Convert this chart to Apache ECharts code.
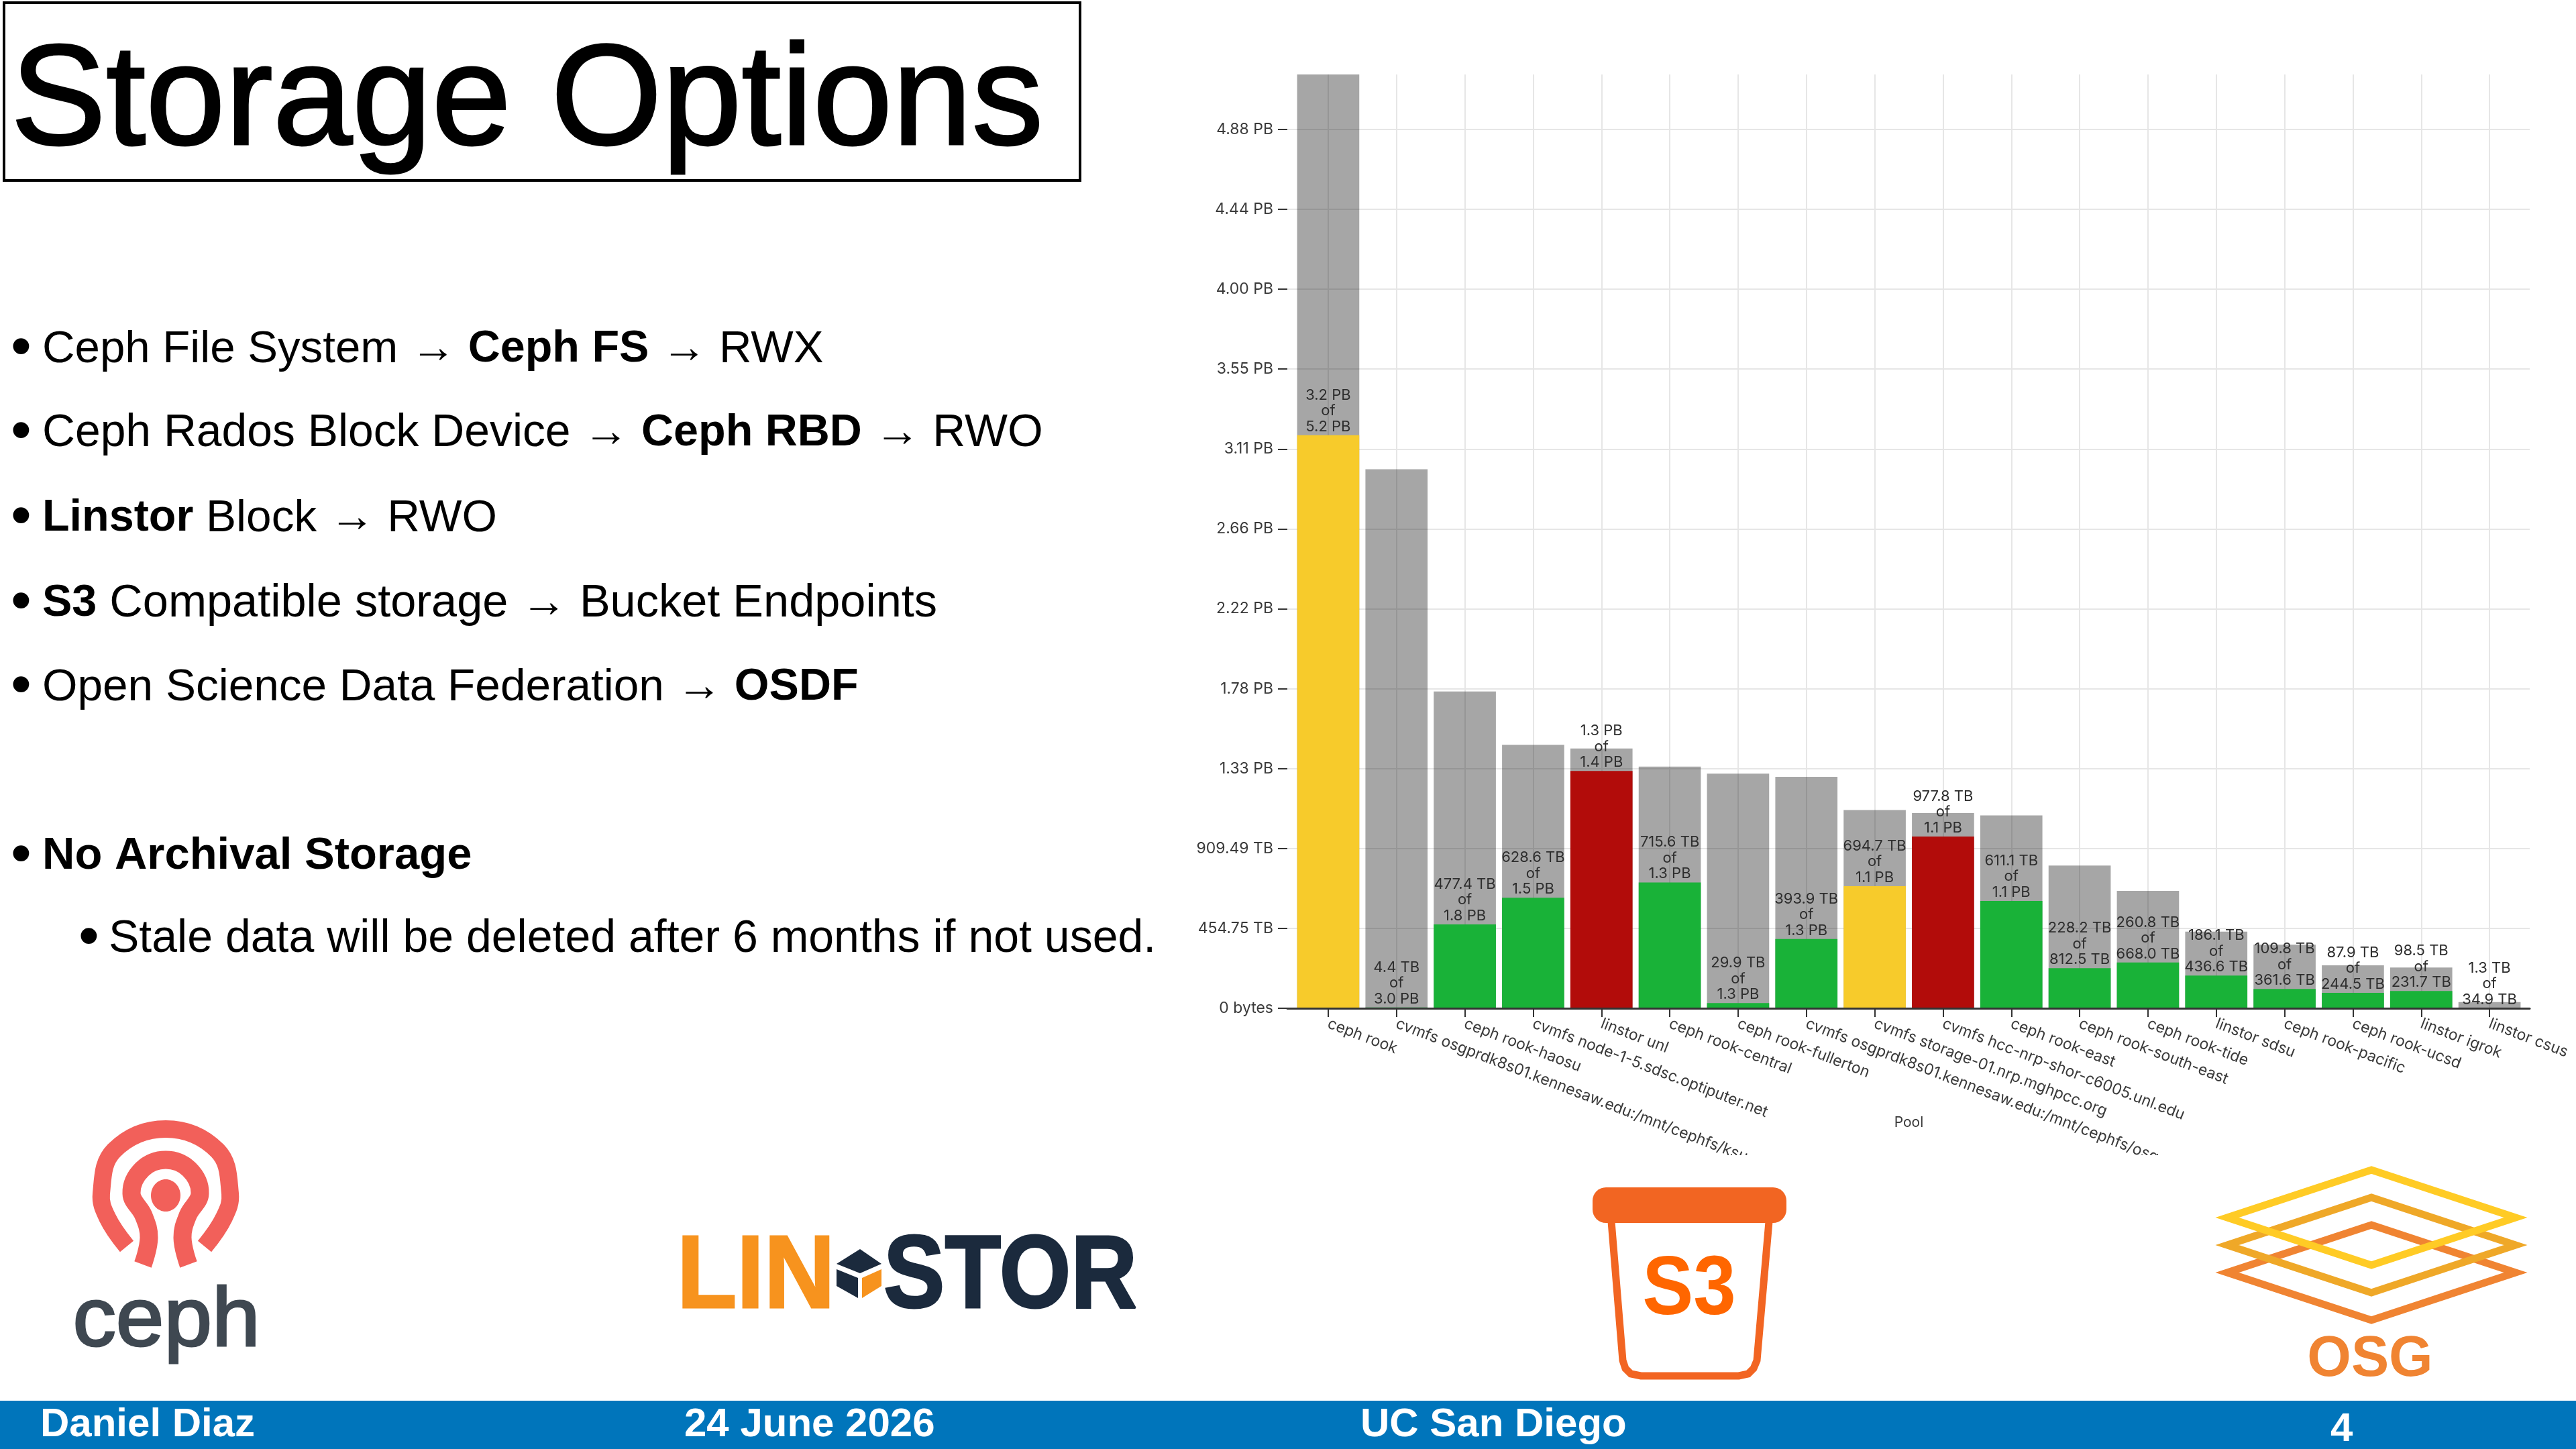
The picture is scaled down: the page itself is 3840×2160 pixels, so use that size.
<!DOCTYPE html>
<html>
<head>
<meta charset="utf-8">
<title>Storage Options</title>
<script src="https://cdn.jsdelivr.net/npm/echarts@6/dist/echarts.min.js"></script>
<style>html,body{margin:0;padding:0;background:#fff}#c{width:3840px;height:2160px}</style>
</head>
<body>
<div id="c"></div>
<script>
// ---- chart data (values in TB, 1 PB = 1024 TB) ----
const pools = ['ceph rook','cvmfs osgprdk8s01.kennesaw.edu:/mnt/cephfs/ksu','ceph rook-haosu','cvmfs node-1-5.sdsc.optiputer.net','linstor unl','ceph rook-central','ceph rook-fullerton','cvmfs osgprdk8s01.kennesaw.edu:/mnt/cephfs/osg','cvmfs storage-01.nrp.mghpcc.org','cvmfs hcc-nrp-shor-c6005.unl.edu','ceph rook-east','ceph rook-south-east','ceph rook-tide','linstor sdsu','ceph rook-pacific','ceph rook-ucsd','linstor igrok','linstor csus'];
const capacity = [5315,3068,1803,1500,1479,1376,1335,1317,1128,1111,1098,812.5,668,436.6,361.6,244.5,231.7,34.9];
const used = [3262,4.4,477.4,628.6,1351,715.6,29.9,393.9,694.7,977.8,611.1,228.2,260.8,186.1,109.8,87.9,98.5,1.3];
const usedText = ['3.2 PB','4.4 TB','477.4 TB','628.6 TB','1.3 PB','715.6 TB','29.9 TB','393.9 TB','694.7 TB','977.8 TB','611.1 TB','228.2 TB','260.8 TB','186.1 TB','109.8 TB','87.9 TB','98.5 TB','1.3 TB'];
const capacityText = ['5.2 PB','3.0 PB','1.8 PB','1.5 PB','1.4 PB','1.3 PB','1.3 PB','1.3 PB','1.1 PB','1.1 PB','1.1 PB','812.5 TB','668.0 TB','436.6 TB','361.6 TB','244.5 TB','231.7 TB','34.9 TB'];
const usedState = ['warn','ok','ok','ok','crit','ok','ok','ok','warn','crit','ok','ok','ok','ok','ok','ok','ok','ok'];
const tickValues = [0,454.75,909.49,1364.24,1818.99,2273.74,2728.48,3183.23,3637.98,4092.73,4547.47,5002.22];
const tickLabels = ['0 bytes','454.75 TB','909.49 TB','1.33 PB','1.78 PB','2.22 PB','2.66 PB','3.11 PB','3.55 PB','4.00 PB','4.44 PB','4.88 PB'];
const xName = 'Pool';
const stateColors = {ok:'#19B238', warn:'#F7CB2B', crit:'#B20C0A'};

// ---- slide text ----
const slideTitle = 'Storage Options';
const bulletLines = [
  'Ceph File System \u2192 {b|Ceph FS} \u2192 RWX',
  'Ceph Rados Block Device \u2192 {b|Ceph RBD} \u2192 RWO',
  '{b|Linstor} Block \u2192 RWO',
  '{b|S3} Compatible storage \u2192 Bucket Endpoints',
  'Open Science Data Federation \u2192 {b|OSDF}',
  '{b|No Archival Storage}',
  'Stale data will be deleted after 6 months if not used.'
];
const footerTexts = ['Daniel Diaz','24 June 2026','UC San Diego','4'];

const FONT = 'Inter';
const SLIDE = '"Liberation Sans"';
const TXT = '#3a3a3a';
const yMax = 5315;

const lineY = [521,646,773,900,1025,1277,1400];
const lineSize = [67.2,67.8,67.5,68.5,67.5,68,68];
function bulletEl(i, y, indent){
  const size = lineSize[i];
  const rich = {
    b:{fontFamily:SLIDE,fontSize:i===5?67:66.5,fill:'#000',fontWeight:'bold'}
  };
  return [
    {type:'text',z:50,style:{x:indent?117:16,y:y,text:'\u2022',fontFamily:SLIDE,fontSize:88,fill:'#000',verticalAlign:'middle'}},
    {type:'text',z:50,style:{x:indent?162:63,y:y,text:bulletLines[i],rich:rich,fontFamily:SLIDE,fontSize:size,fill:'#000',verticalAlign:'middle'}}
  ];
}

const cephColor='#F2605A', s3Color='#F26522', osg=['#F08432','#EFA828','#FFCB25'];
function diamond(cy,col){
  const cx=3535,hw=215,hh=71;
  return {type:'polygon',z:40,shape:{points:[[cx,cy-hh],[cx+hw,cy],[cx,cy+hh],[cx-hw,cy]]},style:{fill:'none',stroke:col,lineWidth:11,lineJoin:'miter',miterLimit:20}};
}
const graphicEls = [
  // title
  {type:'rect',z:50,shape:{x:6,y:4,width:1604,height:265},style:{fill:'none',stroke:'#000',lineWidth:4}},
  {type:'text',z:50,style:{x:16,y:156,text:slideTitle,fontFamily:SLIDE,fontSize:213,fill:'#000',stroke:'#000',lineWidth:3,verticalAlign:'middle'}},
  // bullets
  ...bulletLines.flatMap((_,i)=>bulletEl(i,lineY[i],i===6)),
  // clip of long axis labels
  {type:'rect',z:60,shape:{x:2000,y:1722,width:1400,height:28},style:{fill:'#fff'}},
  // footer
  {type:'rect',z:50,shape:{x:0,y:2088,width:3840,height:72},style:{fill:'#0075BB'}},
  {type:'text',z:51,style:{x:60,y:2124,text:footerTexts[0],fontFamily:SLIDE,fontWeight:'bold',fontSize:60,fill:'#fff',verticalAlign:'middle'}},
  {type:'text',z:51,style:{x:1020,y:2124,text:footerTexts[1],fontFamily:SLIDE,fontWeight:'bold',fontSize:60,fill:'#fff',verticalAlign:'middle'}},
  {type:'text',z:51,style:{x:2028,y:2124,text:footerTexts[2],fontFamily:SLIDE,fontWeight:'bold',fontSize:60,fill:'#fff',verticalAlign:'middle'}},
  {type:'text',z:51,style:{x:3474,y:2131,text:footerTexts[3],fontFamily:SLIDE,fontWeight:'bold',fontSize:60,fill:'#fff',verticalAlign:'middle'}},
  // ceph logo
  {type:'polyline',z:40,shape:{smooth:0.4,points:[[189,1858],[160,1815],[151,1779],[170,1715],[247,1683],[324,1715],[343,1779],[334,1815],[305,1858]]},style:{fill:'none',stroke:cephColor,lineWidth:26}},
  {type:'polyline',z:40,shape:{smooth:0.4,points:[[213,1885],[222,1845],[214,1812],[196,1779],[212,1743],[247,1729],[282,1743],[298,1779],[280,1812],[272,1845],[281,1885]]},style:{fill:'none',stroke:cephColor,lineWidth:27}},
  {type:'ellipse',z:40,shape:{cx:247,cy:1782,rx:22,ry:24},style:{fill:cephColor}},
  {type:'text',z:40,x:248,y:1972,scaleX:1.03,style:{x:0,y:0,text:'ceph',fontFamily:SLIDE,fontSize:125,fill:'#3F4851',stroke:'#3F4851',lineWidth:3,align:'center',verticalAlign:'middle'}},
  // linstor logo
  {type:'text',z:40,x:1009,y:1907,scaleX:0.95,style:{x:0,y:0,text:'LIN',fontFamily:SLIDE,fontWeight:'bold',fontSize:154,fill:'#F7931E',stroke:'#F7931E',lineWidth:3,verticalAlign:'middle'}},
  {type:'text',z:40,x:1317,y:1907,scaleX:0.89,style:{x:0,y:0,text:'STOR',fontFamily:SLIDE,fontWeight:'bold',fontSize:154,fill:'#1B2A3D',stroke:'#1B2A3D',lineWidth:3,verticalAlign:'middle'}},
  {type:'polygon',z:40,shape:{points:[[1282,1862],[1314,1884],[1282,1898],[1247,1884]]},style:{fill:'#1B2A3D'}},
  {type:'polygon',z:40,shape:{points:[[1247,1892],[1279,1905],[1279,1935],[1247,1917]]},style:{fill:'#1B2A3D'}},
  {type:'polygon',z:40,shape:{points:[[1314,1892],[1285,1905],[1285,1935],[1314,1917]]},style:{fill:'#F7931E'}},
  // s3 logo
  {type:'rect',z:40,shape:{x:2374,y:1770,width:289,height:53,r:20},style:{fill:s3Color}},
  {type:'polyline',z:40,shape:{points:[[2402,1821],[2419,2028],[2423,2040],[2431,2048],[2446,2051],[2592,2051],[2606,2048],[2614,2040],[2619,2028],[2637,1821]]},style:{fill:'none',stroke:s3Color,lineWidth:11}},
  {type:'text',z:40,x:2518,y:1925,scaleX:0.92,style:{x:0,y:0,text:'S3',fontFamily:SLIDE,fontWeight:'bold',fontSize:124,fill:'#FF6600',align:'center',verticalAlign:'middle'}},
  // osg logo
  diamond(1897,osg[0]),diamond(1856,osg[1]),diamond(1815,osg[2]),
  {type:'text',z:40,x:3533,y:2027,scaleX:0.98,style:{x:0,y:0,text:'OSG',fontFamily:SLIDE,fontWeight:'bold',fontSize:86,fill:osg[0],align:'center',verticalAlign:'middle'}}
];

const chart = echarts.init(document.getElementById('c'), null, {width:3840,height:2160});
chart.setOption({
  animation:false,
  backgroundColor:'#fff',
  textStyle:{fontFamily:FONT},
  grid:[
    {left:1929,top:111,width:1833,height:1392},
    {left:1919,top:111,width:1852,height:1392}
  ],
  xAxis:[
    {type:'category',gridIndex:0,data:pools,
     axisLine:{show:false},
     axisTick:{show:true,alignWithLabel:true,length:13,lineStyle:{color:'#333',width:2}},
     splitLine:{show:true,alignWithLabel:true,lineStyle:{color:'#e6e6e6',width:2}},
     axisLabel:{show:true,interval:0,rotate:-21,margin:22,fontFamily:FONT,fontSize:23,color:TXT,hideOverlap:false},
     name:xName,nameLocation:'middle',nameGap:160,nameMoveOverlap:false,nameTextStyle:{fontFamily:FONT,fontSize:21,color:TXT}},
    {type:'value',gridIndex:1,min:0,max:1,z:5,
     axisLine:{show:true,onZero:false,lineStyle:{color:'#333',width:3}},
     axisTick:{show:false},axisLabel:{show:false},splitLine:{show:false}}
  ],
  yAxis:[
    {type:'value',gridIndex:0,min:0,max:yMax,show:false,splitLine:{show:false}},
    {type:'value',gridIndex:1,min:0,max:yMax,
     axisLine:{show:false},
     axisTick:{show:true,length:14,customValues:tickValues,lineStyle:{color:'#333',width:2}},
     splitLine:{show:true,lineStyle:{color:'#e6e6e6',width:2}},
     axisLabel:{show:true,margin:21,fontFamily:FONT,fontSize:23,color:TXT,customValues:tickValues,
       formatter:function(v){return tickLabels[tickValues.indexOf(v)];}}}
  ],
  series:[
    {type:'bar',name:'Capacity',xAxisIndex:0,yAxisIndex:0,data:capacity,barWidth:'91%',barGap:'-100%',
     itemStyle:{color:'rgba(0,0,0,0.35)'},silent:true},
    {type:'bar',name:'Used',xAxisIndex:0,yAxisIndex:0,barWidth:'91%',barGap:'-100%',
     data:used.map((v,i)=>({value:v,itemStyle:{color:stateColors[usedState[i]]}})),
     label:{show:true,position:'top',distance:1,fontFamily:FONT,fontSize:22,lineHeight:23.5,color:'#2e2e2e',align:'center',
       formatter:function(p){return usedText[p.dataIndex]+'\nof\n'+capacityText[p.dataIndex];}}}
  ],
  graphic:{elements:graphicEls}
});
</script>
</body>
</html>
